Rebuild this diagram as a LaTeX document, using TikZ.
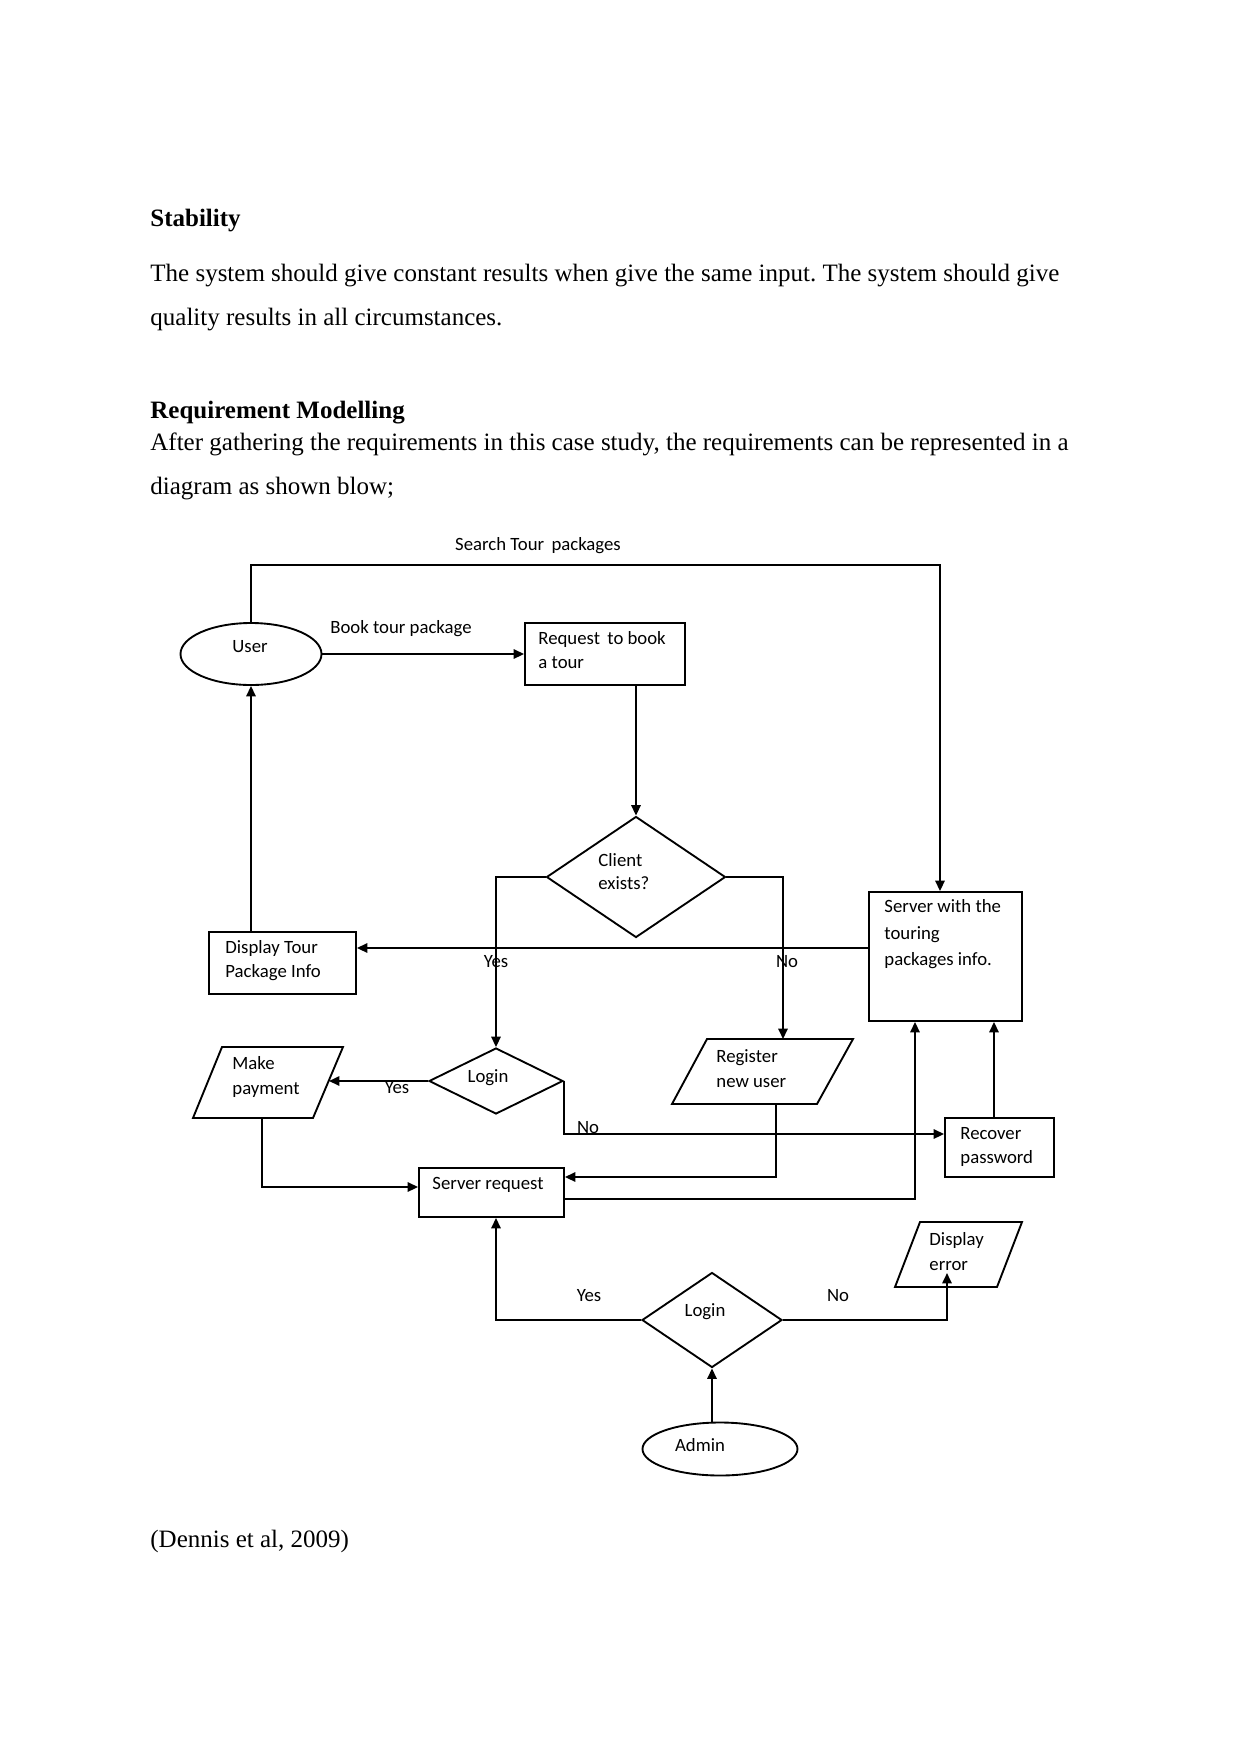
\documentclass[tikz,border=0pt]{standalone}
\usepackage{fontspec}
\setmainfont{Liberation Serif}
\newfontfamily\diagfont{Carlito}
\usetikzlibrary{shapes.geometric,arrows.meta,calc}
\def\pxu{0.48pt}
\frenchspacing
\begin{document}
\begin{tikzpicture}[x=0.48pt,y=-0.48pt,
  body/.style={anchor=base west, inner sep=0, font=\fontsize{12}{14}\selectfont},
  head/.style={anchor=base west, inner sep=0, font=\fontsize{12}{14}\selectfont\bfseries},
  lbl/.style={inner sep=0, font=\diagfont\fontsize{9}{12}\selectfont},
  intext/.style={anchor=west, inner sep=0, text height=6.5pt, text depth=2pt, font=\diagfont\fontsize{9}{12}\selectfont},
  shp/.style={draw, line width=0.9pt, inner sep=0},
  conn/.style={line width=0.9pt},
  arr/.style={conn, -{Triangle[length=5pt,width=4.5pt]}},
]
\useasboundingbox (0,0) rectangle (1241,1754);

% ---- body text ----
\node[head] (h1) at (150,226) {Stability};
\node[body] (p1) at (150,281) {The system should give constant results when give the same input. The system should give};
\node[body] (p2) at (150,325) {quality results in all circumstances.};
\node[head] (h2) at (150,418) {Requirement Modelling};
\node[body] (p3) at (150,450) {After gathering the requirements in this case study, the requirements can be represented in a};
\node[body] (p4) at (150,494) {diagram as shown blow;};
\node[body] (cite) at (150,1547) {(Dennis et al, 2009)};

% ---- shapes ----
\node[shp, ellipse, minimum width=141*\pxu, minimum height=62*\pxu] (user) at (251,654) {};
\node[shp, minimum width=160*\pxu, minimum height=62*\pxu] (req) at (605,654) {};
\node[shp, diamond, minimum width=179*\pxu, minimum height=121*\pxu] (client) at (636,877) {};
\node[shp, minimum width=153*\pxu, minimum height=129*\pxu] (server) at (945.5,956.5) {};
\node[shp, minimum width=147*\pxu, minimum height=62*\pxu] (disp) at (282.5,963) {};
\node[shp, diamond, minimum width=134*\pxu, minimum height=66*\pxu] (login) at (496,1081) {};
\node[shp, minimum width=145*\pxu, minimum height=49*\pxu] (sreq) at (491.5,1192.5) {};
\node[shp, minimum width=109*\pxu, minimum height=59*\pxu] (rec) at (999.5,1147.5) {};
\node[shp, diamond, minimum width=140*\pxu, minimum height=95*\pxu] (alogin) at (712,1320) {};
\node[shp, ellipse, minimum width=155*\pxu, minimum height=53*\pxu] (admin) at (720,1449) {};

% parallelograms
\coordinate (payTL) at (222,1047); \coordinate (payTR) at (343,1047);
\coordinate (payBR) at (313,1118); \coordinate (payBL) at (193,1118);
\draw[line width=0.9pt] (payTL) -- (payTR) -- (payBR) -- (payBL) -- cycle;
\coordinate (payR) at (329,1081); \coordinate (payB) at (262,1118);

\coordinate (regTL) at (707,1039); \coordinate (regTR) at (853,1039);
\coordinate (regBR) at (817,1104); \coordinate (regBL) at (672,1104);
\draw[line width=0.9pt] (regTL) -- (regTR) -- (regBR) -- (regBL) -- cycle;
\coordinate (regT) at (783,1039); \coordinate (regB) at (776,1104);

\coordinate (derrTL) at (920,1222); \coordinate (derrTR) at (1022,1222);
\coordinate (derrBR) at (997,1287); \coordinate (derrBL) at (895,1287);
\draw[line width=0.9pt] (derrTL) -- (derrTR) -- (derrBR) -- (derrBL) -- cycle;
\coordinate (derrIn) at (947,1273);

% ---- texts in shapes ----
\node[lbl] (tuser) at (250,647) {User};
\node[intext] (treq1) at (538,640) {Request\, to book};
\node[intext] (treq2) at (538,664) {a tour};
\node[intext] (tcl1) at (598,862) {Client};
\node[intext] (tcl2) at (598,885) {exists?};
\node[intext] (tdisp1) at (225,949) {Display Tour};
\node[intext] (tdisp2) at (225,973) {Package Info};
\node[intext] (tsrv1) at (884,908) {Server with the};
\node[intext] (tsrv2) at (884,935) {touring};
\node[intext] (tsrv3) at (884,961) {packages info.};
\node[lbl] (tlogin) at (488,1078) {Login};
\node[intext] (tpay1) at (232,1065) {Make};
\node[intext] (tpay2) at (232,1090) {payment};
\node[intext] (tsreq) at (432,1185) {Server request};
\node[intext] (treg1) at (716,1058) {Register};
\node[intext] (treg2) at (716,1083) {new user};
\node[intext] (trec1) at (960,1135) {Recover};
\node[intext] (trec2) at (960,1159) {password};
\node[intext] (tderr1) at (929,1241) {Display};
\node[intext] (tderr2) at (929,1266) {error};
\node[lbl] (talogin) at (705,1312) {Login};
\node[lbl] (tadmin) at (700,1445) {Admin};

% ---- connectors ----
\coordinate (topL) at (251,565);
\coordinate (topR) at (940,565);
\draw[arr] (user.north) -- (topL) -- (topR) -- (topR |- server.north);
\draw[arr] (user.east) -- (req.west);
\draw[arr] (req.south -| client.north) -- (client.north);
\draw[arr] (client.west) -| (login.north);
\draw[arr] (client.east) -| (regT);
\coordinate (dline) at (0,948);
\draw[arr] (server.west |- dline) -- (disp.east |- dline);
\draw[arr] (disp.north -| user.south) -- (user.south);
\draw[arr] (login.west) -- (payR);
\coordinate (payline) at (0,1187);
\draw[arr] (payB) |- (sreq.west |- payline);
\coordinate (noline) at (0,1134);
\draw[arr] (login.east) |- (rec.west |- noline);
\coordinate (regline) at (0,1177);
\draw[arr] (regB) |- (sreq.east |- regline);
\coordinate (srvline) at (915,1199);
\draw[arr] (sreq.east |- srvline) -| (server.south -| srvline);
\coordinate (recx) at (994,0);
\draw[arr] (rec.north -| recx) -- (server.south -| recx);
\draw[arr] (alogin.west) -| (sreq.south -| login.south);
\draw[arr] (alogin.east) -| (derrIn);
\draw[arr] (admin.north -| alogin.south) -- (alogin.south);

% ---- connector labels ----
\node[lbl] (lsearch) at (538,546) {Search Tour\, packages};
\node[lbl] (lbook) at (401,629) {Book tour package};
\node[lbl] (lyes1) at (496,962) {Yes};
\node[lbl] (lno1) at (787,962) {No};
\node[lbl] (lyes2) at (397,1088) {Yes};
\node[lbl] (lno2) at (588,1128) {No};
\node[lbl] (lyes3) at (589,1296) {Yes};
\node[lbl] (lno3) at (838,1296) {No};
\end{tikzpicture}
\end{document}
